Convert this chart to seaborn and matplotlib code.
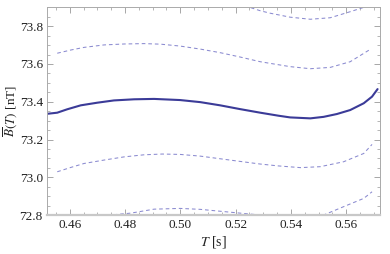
import numpy as np
import pandas as pd
import matplotlib
matplotlib.use("Agg")
import matplotlib.pyplot as plt
from matplotlib.ticker import MultipleLocator
import seaborn as sns

# values
main_t = [0.4518, 0.4555, 0.4591, 0.4640, 0.4700, 0.4760, 0.4833, 0.4905, 0.4999, 0.5072,
          0.5144, 0.5216, 0.5289, 0.5355, 0.5397, 0.5470, 0.5518, 0.5566, 0.5614, 0.5663,
          0.5693, 0.5713]
main_b = [73.336, 73.342, 73.360, 73.381, 73.395, 73.407, 73.413, 73.415, 73.409, 73.398,
          73.381, 73.361, 73.342, 73.326, 73.317, 73.312, 73.320, 73.335, 73.356, 73.392,
          73.427, 73.467]

up1_t = [0.4555, 0.4604, 0.4652, 0.4724, 0.4797, 0.4869, 0.4929, 0.4999, 0.5072, 0.5144,
         0.5216, 0.5289, 0.5355, 0.5397, 0.5470, 0.5542, 0.5614, 0.5687]
up1_b = [73.657, 73.674, 73.688, 73.701, 73.706, 73.708, 73.705, 73.695, 73.679, 73.660,
         73.637, 73.612, 73.596, 73.586, 73.575, 73.582, 73.612, 73.678]

lo1_t = [0.4555, 0.4604, 0.4652, 0.4724, 0.4797, 0.4869, 0.4935, 0.4999, 0.5072, 0.5144,
         0.5216, 0.5289, 0.5355, 0.5434, 0.5506, 0.5590, 0.5663, 0.5693]
lo1_b = [73.029, 73.052, 73.073, 73.091, 73.108, 73.119, 73.123, 73.121, 73.112, 73.098,
         73.084, 73.070, 73.060, 73.051, 73.056, 73.082, 73.126, 73.174]

up2_t = [0.4555, 0.4700, 0.4900, 0.5100, 0.5241, 0.5289, 0.5325, 0.5397, 0.5470, 0.5542,
         0.5614, 0.5663, 0.5690]
up2_b = [73.970, 73.990, 74.000, 73.960, 73.905, 73.882, 73.869, 73.848, 73.837, 73.845,
         73.877, 73.900, 73.930]

lo2_t = [0.4555, 0.4650, 0.4748, 0.4821, 0.4905, 0.4999, 0.5072, 0.5144, 0.5216, 0.5289,
         0.5400, 0.5518, 0.5590, 0.5663, 0.5693]
lo2_b = [72.710, 72.760, 72.800, 72.810, 72.831, 72.835, 72.830, 72.820, 72.810, 72.800,
         72.790, 72.800, 72.844, 72.888, 72.923]

sns.set_style("ticks")
plt.rcParams["font.family"] = ["Liberation Serif", "DejaVu Serif"]
plt.rcParams["mathtext.fontset"] = "stix"

fig = plt.figure(figsize=(3.9, 2.54), dpi=100)
ax = fig.add_axes([0.1205, 0.1535, 0.854, 0.819])

main_col = "#3b3b98"
band_col = "#8a8ad0"

for t, b in [(up2_t, up2_b), (up1_t, up1_b), (lo1_t, lo1_b), (lo2_t, lo2_b)]:
    sns.lineplot(x=t, y=b, ax=ax, color=band_col, linewidth=0.75,
                 dashes=False, sort=False)
for ln in ax.get_lines():
    ln.set_dashes((3.5, 2.8))

sns.lineplot(x=main_t, y=main_b, ax=ax, color=main_col, linewidth=1.5, sort=False)

ax.set_xlim(0.4518, 0.5722)
ax.set_ylim(72.8, 73.902)

ax.xaxis.set_major_locator(MultipleLocator(0.02))
ax.xaxis.set_minor_locator(MultipleLocator(0.005))
ax.yaxis.set_major_locator(MultipleLocator(0.2))
ax.yaxis.set_minor_locator(MultipleLocator(0.05))
ax.xaxis.set_major_formatter(plt.FuncFormatter(lambda v, p: f"{v:.2f}"))
ax.yaxis.set_major_formatter(plt.FuncFormatter(lambda v, p: f"{v:.1f}"))

ax.tick_params(which="both", direction="in", top=True, right=True,
               color="#999999", labelsize=9.5, labelcolor="#222222", pad=3)
ax.tick_params(which="major", length=4, width=0.6)
ax.tick_params(which="minor", length=2, width=0.5)

for s in ax.spines.values():
    s.set_color("#aaaaaa")
    s.set_linewidth(0.7)
ax.spines["bottom"].set_color("#c8c8c8")
ax.spines["bottom"].set_linewidth(1.6)

ax.set_xlabel(r"$T$ [s]", fontsize=10, color="#222222", labelpad=2)
ax.set_ylabel(r"$\overline{B}(T)$ [nT]", fontsize=9.5, color="#222222")
ax.yaxis.set_label_coords(-0.083, 0.5)

fig.savefig("out.png", dpi=100)
